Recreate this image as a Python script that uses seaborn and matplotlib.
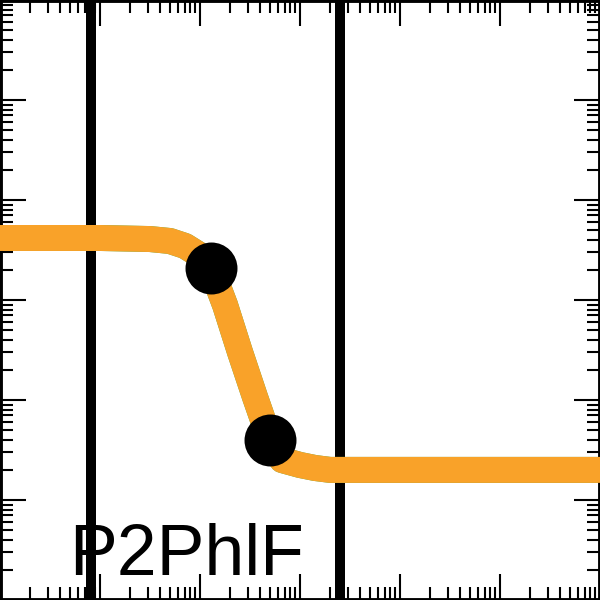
import numpy as np
import pandas as pd
import matplotlib
matplotlib.use('Agg')
import matplotlib.pyplot as plt
import matplotlib.ticker as mticker
import seaborn as sns

# response curve (input -> output, both log)
curve_in = [0.001, 0.01, 0.0316, 0.0501, 0.0708, 0.0955, 0.129, 0.178, 0.251,
            0.355, 0.501, 0.661, 1.0, 1.41, 2.0, 1000.0]
curve_out = [4.17, 4.17, 4.07, 3.89, 3.47, 2.88, 2.09, 0.891, 0.302,
             0.107, 0.0398, 0.0251, 0.0224, 0.0209, 0.0200, 0.0200]

# the two marked points on the curve
point_in = [0.129, 0.501]
point_out = [2.09, 0.0398]

# input low / high levels
input_levels = [0.0081, 2.5]

gate_name = 'P2PhlF'

df = pd.DataFrame({'input': curve_in, 'output': curve_out})
pts = pd.DataFrame({'input': point_in, 'output': point_out})

plt.rcParams['font.family'] = ['Liberation Sans', 'DejaVu Sans']

fig = plt.figure(figsize=(6, 6), dpi=100)
ax = fig.add_axes([0, 0, 1, 1])

for lv in input_levels:
    ax.axvline(lv, color='black', linewidth=7.2, zorder=1)

sns.lineplot(data=df, x='input', y='output', ax=ax, color='#4caf50',
             linewidth=18.7, zorder=2, solid_joinstyle='round')
sns.lineplot(data=df, x='input', y='output', ax=ax, color='#f9a229',
             linewidth=18.7, zorder=3, solid_joinstyle='round')
sns.scatterplot(data=pts, x='input', y='output', ax=ax, color='black',
                s=1400, linewidth=0, zorder=4)

ax.set_xscale('log')
ax.set_yscale('log')
ax.set_xlim(1e-3, 1e3)
ax.set_ylim(1e-3, 1e3)

for axis in [ax.xaxis, ax.yaxis]:
    axis.set_major_locator(mticker.LogLocator(base=10, numticks=20))
    axis.set_minor_locator(mticker.LogLocator(base=10, subs=range(2, 10), numticks=20))
    axis.set_major_formatter(mticker.NullFormatter())
    axis.set_minor_formatter(mticker.NullFormatter())

ax.tick_params(which='both', direction='in', top=True, right=True,
               bottom=True, left=True, width=1.5, color='black')
ax.tick_params(which='major', length=19)
ax.tick_params(which='minor', length=9.5)
for sp in ax.spines.values():
    sp.set_linewidth(3.5)
    sp.set_color('black')

ax.set_xlabel('')
ax.set_ylabel('')

ax.text(0.116, 0.042, gate_name, transform=ax.transAxes, fontsize=51.5,
        ha='left', va='baseline', color='black', zorder=5)

fig.savefig('out.png', dpi=100)
